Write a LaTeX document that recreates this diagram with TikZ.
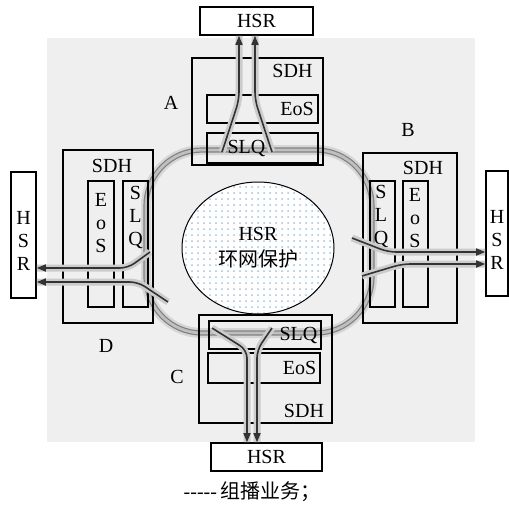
\documentclass[tikz,border=0pt]{standalone}
\usepackage{fontspec}
\setmainfont{Liberation Serif}
\newfontfamily\cjk{Noto Sans CJK SC}
\usetikzlibrary{positioning,arrows.meta,shapes.geometric,patterns,calc}
\definecolor{dotblue}{HTML}{9CC3E6}
\definecolor{panelGray}{HTML}{EFEFEF}

\begin{document}
\begin{tikzpicture}[x=0.5pt, y=-0.5pt,
        box/.style={draw=black, line width=0.8pt, inner sep=0pt},
        boxText/.style={inner sep=0pt},
        vText/.style={inner sep=0pt, align=center},
        ringHalo/.style={draw=black!16, line width=5pt, rounded corners=28pt},
        ringCore/.style={draw=black!50, line width=0.6pt, double=black!25, double distance=1.4pt, rounded corners=28pt},
        feedArrow/.style={draw=black!80, line width=0.8pt, rounded corners=4pt, -{Triangle[length=4.5pt, width=3.5pt]}, preaction={draw=black!20, line width=3.5pt, -}}
    ]
        \useasboundingbox (0,0) rectangle (509,505);
        \fill[panelGray] (47,38) rectangle (475,442);

        % protection ring
        \draw[ringHalo] (146,150) rectangle (372,333);
        \draw[ringCore] (146,150) rectangle (372,333);

        % centre
        \node[ellipse, draw=black, line width=0.5pt, minimum width=76pt, minimum height=66pt, inner sep=0pt, align=center, preaction={fill=white}, pattern=dots, pattern color=dotblue] (hsrRing) at (258,248) {HSR\\[1pt]{\cjk 环网保护}};

        % Node A (top)
        \node[box, minimum width=56.5pt, minimum height=14pt] (hsrA) at (256.5,21) {HSR};
        \node[box, minimum width=65.5pt, minimum height=53.5pt] (sdhA) at (257.5,111.5) {};
        \node[box, minimum width=55.5pt, minimum height=14pt] (eosA) at (262.5,109) {};
        \node[box, minimum width=55.5pt, minimum height=15pt] (slqA) at (262.5,148) {};
        \node[boxText] (sdhAtxt) at (292.5,71) {SDH};
        \node[boxText] (eosAtxt) at (297,109) {EoS};
        \node[boxText] (slqAtxt) at (246.5,148) {SLQ};
        \node[boxText] (tagA) at (171,103) {A};

        % Node B (right)
        \node[box, minimum width=11pt, minimum height=62.5pt] (hsrB) at (497,233.5) {};
        \node[box, minimum width=47pt, minimum height=85pt] (sdhB) at (410,238) {};
        \node[box, minimum width=12.5pt, minimum height=63pt] (slqB) at (382.5,244) {};
        \node[box, minimum width=12.5pt, minimum height=63pt] (eosB) at (415.5,244) {};
        \node[boxText] (sdhBtxt) at (423,168) {SDH};
        \node[vText] (slqBtxt) at (381,216) {S\\[-0.5pt]L\\[-0.5pt]Q};
        \node[vText] (eosBtxt) at (415,218) {E\\[-0.5pt]o\\[-0.5pt]S};
        \node[vText] (hsrBtxt) at (497,240) {H\\[-0.5pt]S\\[-0.5pt]R};
        \node[boxText] (tagB) at (408,130) {B};

        % Node C (bottom)
        \node[box, minimum width=55.5pt, minimum height=14pt] (hsrC) at (266.5,457) {HSR};
        \node[box, minimum width=66.5pt, minimum height=54pt] (sdhC) at (265.5,369) {};
        \node[box, minimum width=56pt, minimum height=14pt] (slqC) at (265,335) {};
        \node[box, minimum width=56pt, minimum height=15pt] (eosC) at (264,368) {};
        \node[boxText] (sdhCtxt) at (304,411) {SDH};
        \node[boxText] (slqCtxt) at (298.5,335) {SLQ};
        \node[boxText] (eosCtxt) at (299.5,368) {EoS};
        \node[boxText] (tagC) at (177,377) {C};

        % Node D (left)
        \node[box, minimum width=12.5pt, minimum height=63pt] (hsrD) at (23.5,235) {};
        \node[box, minimum width=45pt, minimum height=86.5pt] (sdhD) at (108,236.5) {};
        \node[box, minimum width=13pt, minimum height=63pt] (eosD) at (101,244) {};
        \node[box, minimum width=12.5pt, minimum height=63pt] (slqD) at (135.5,244) {};
        \node[boxText] (sdhDtxt) at (112,166) {SDH};
        \node[vText] (eosDtxt) at (101,223) {E\\[-0.5pt]o\\[-0.5pt]S};
        \node[vText] (slqDtxt) at (135.5,217) {S\\[-0.5pt]L\\[-0.5pt]Q};
        \node[vText] (hsrDtxt) at (23.5,241) {H\\[-0.5pt]S\\[-0.5pt]R};
        \node[boxText] (tagD) at (106,346) {D};

        % multicast feeds leaving the ring
        \coordinate (aFeedL) at (222,152);
        \coordinate (aBendL) at (239,100);
        \coordinate (aFeedR) at (272,152);
        \coordinate (aBendR) at (255,100);
        \draw[feedArrow] (aFeedL) -- (aBendL) -- (aBendL |- hsrA.south);
        \draw[feedArrow] (aFeedR) -- (aBendR) -- (aBendR |- hsrA.south);

        \coordinate (bFeedU) at (352,238);
        \coordinate (bBendU) at (388,252);
        \coordinate (bFeedL) at (362,276);
        \coordinate (bBendL) at (402,264);
        \draw[feedArrow] (bFeedU) -- (bBendU) -- (bBendU -| hsrB.west);
        \draw[feedArrow] (bFeedL) -- (bBendL) -- (bBendL -| hsrB.west);

        \coordinate (cFeedL) at (212,328);
        \coordinate (cBendL) at (247,350);
        \coordinate (cFeedR) at (272,328);
        \coordinate (cBendR) at (257,350);
        \draw[feedArrow] (cFeedL) -- (cBendL) -- (cBendL |- hsrC.north);
        \draw[feedArrow] (cFeedR) -- (cBendR) -- (cBendR |- hsrC.north);

        \coordinate (dFeedU) at (150,252);
        \coordinate (dBendU) at (128,268);
        \coordinate (dFeedL) at (168,302);
        \coordinate (dBendL) at (138,282);
        \draw[feedArrow] (dFeedU) -- (dBendU) -- (dBendU -| hsrD.east);
        \draw[feedArrow] (dFeedL) -- (dBendL) -- (dBendL -| hsrD.east);

        % legend
        \node[boxText] (legend) at (252,492) {-{}-{}-{}-{}-\,{\cjk 组播业务；}};
    \end{tikzpicture}
\end{document}
